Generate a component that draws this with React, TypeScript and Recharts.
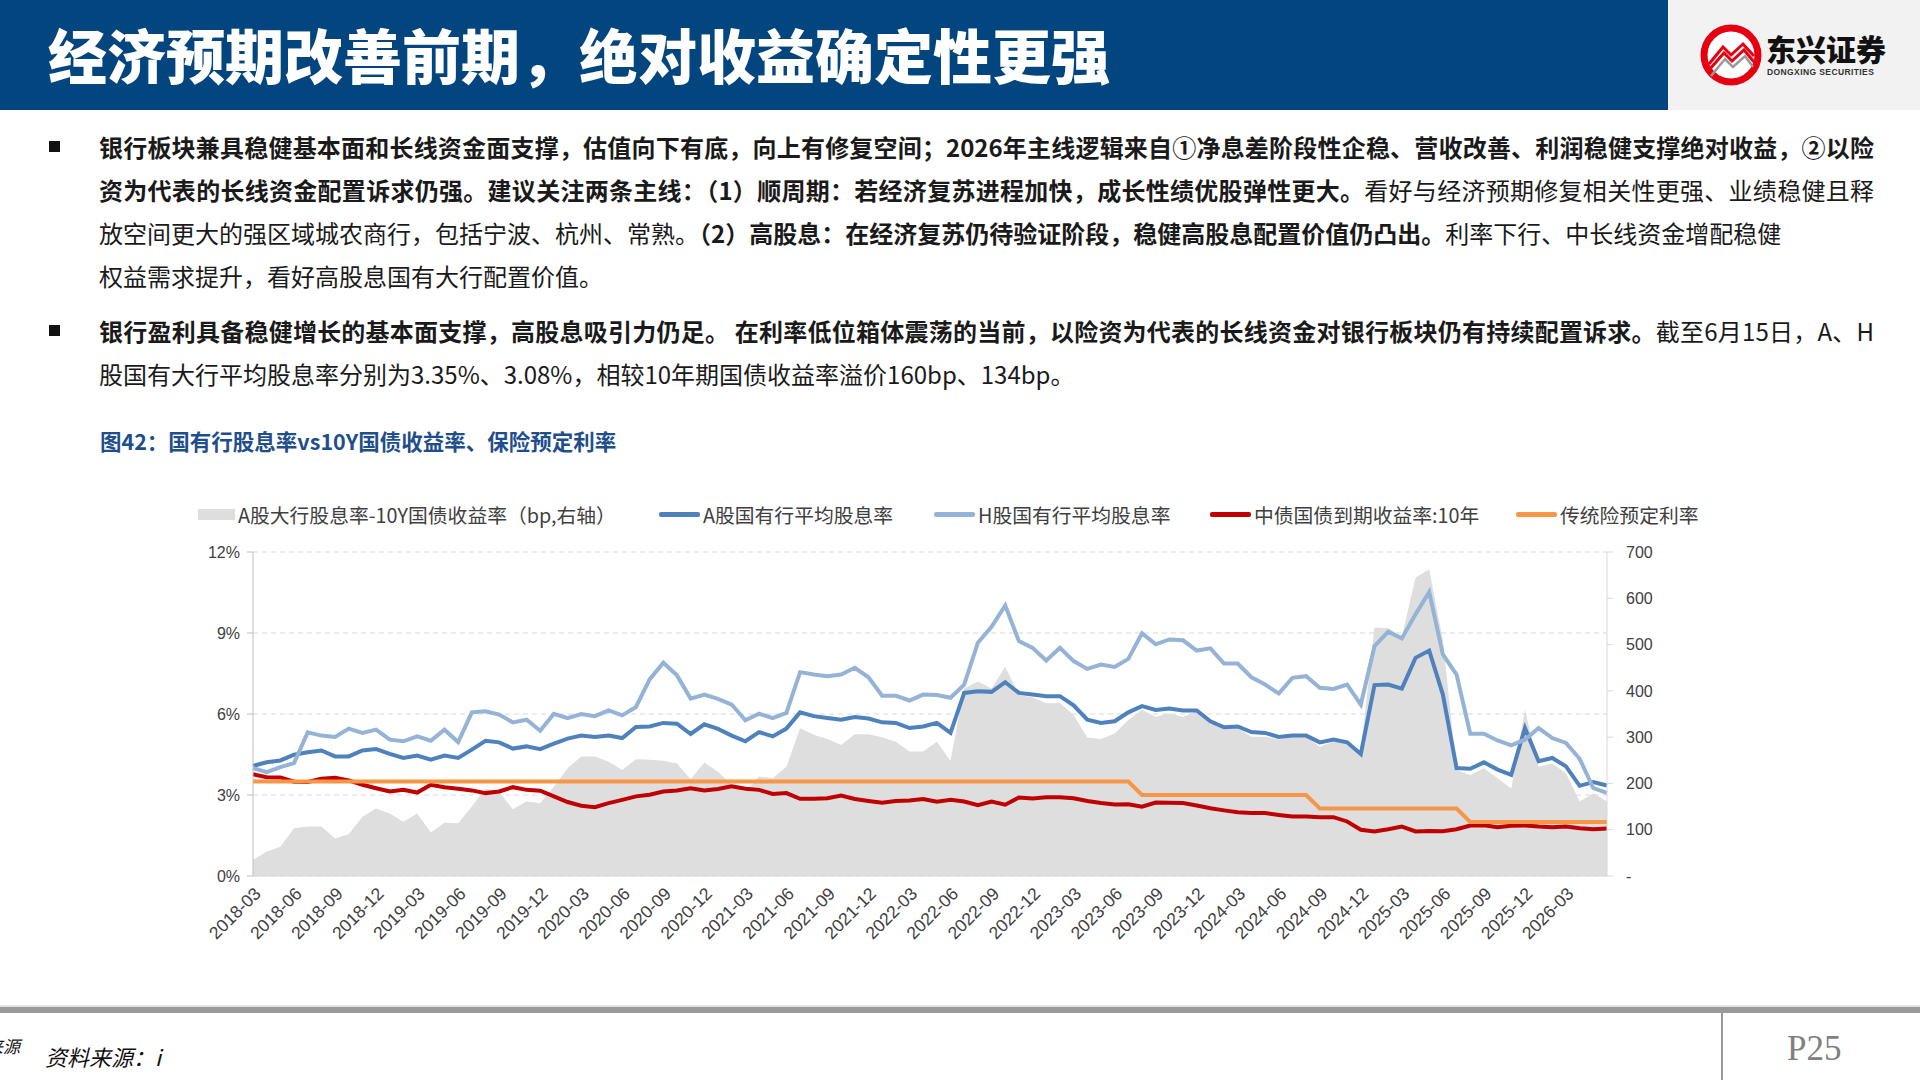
import React from 'react'
import { ComposedChart, Area, Line, XAxis, YAxis, CartesianGrid } from 'recharts'

// Monthly points, 2018-03 .. 2026-06
const aYield = [
    4.08, 4.21, 4.28, 4.49, 4.58, 4.65, 4.43, 4.43, 4.65, 4.70,
    4.52, 4.37, 4.46, 4.31, 4.46, 4.37, 4.68, 5.01, 4.95, 4.72,
    4.80, 4.70, 4.90, 5.09, 5.20, 5.15, 5.20, 5.11, 5.52, 5.54,
    5.67, 5.64, 5.26, 5.62, 5.45, 5.20, 4.99, 5.33, 5.17, 5.46,
    6.06, 5.92, 5.85, 5.79, 5.89, 5.83, 5.69, 5.67, 5.48, 5.54,
    5.67, 5.30, 6.78, 6.84, 6.82, 7.18, 6.78, 6.72, 6.66, 6.66,
    6.32, 5.79, 5.67, 5.73, 6.06, 6.29, 6.15, 6.20, 6.13, 6.13,
    5.73, 5.51, 5.54, 5.33, 5.30, 5.15, 5.20, 5.20, 4.95, 5.05,
    4.95, 4.52, 7.07, 7.09, 6.94, 8.08, 8.35, 6.72, 4.00, 3.97,
    4.21, 3.94, 3.75, 5.48, 4.25, 4.37, 4.06, 3.34, 3.48, 3.35,
]

const hYield = [
    4.00, 3.85, 4.03, 4.18, 5.32, 5.20, 5.15, 5.46, 5.30, 5.42,
    5.05, 4.99, 5.17, 5.01, 5.42, 4.96, 6.06, 6.10, 5.98, 5.69,
    5.79, 5.38, 6.01, 5.85, 6.00, 5.92, 6.13, 5.95, 6.26, 7.28,
    7.90, 7.43, 6.57, 6.72, 6.56, 6.35, 5.77, 6.01, 5.85, 6.04,
    7.55, 7.46, 7.40, 7.46, 7.71, 7.36, 6.68, 6.68, 6.50, 6.72,
    6.70, 6.60, 7.09, 8.64, 9.23, 10.02, 8.70, 8.45, 7.98, 8.45,
    7.96, 7.67, 7.83, 7.74, 8.04, 8.99, 8.58, 8.76, 8.73, 8.35,
    8.43, 7.87, 7.87, 7.36, 7.09, 6.76, 7.34, 7.40, 6.97, 6.93,
    7.09, 6.35, 8.51, 9.05, 8.80, 9.69, 10.52, 8.21, 7.46, 5.27,
    5.27, 5.02, 4.84, 5.05, 5.48, 5.11, 4.93, 4.34, 3.25, 3.08,
]

const cgb10y = [
    3.77, 3.66, 3.65, 3.49, 3.48, 3.60, 3.64, 3.54, 3.38, 3.25,
    3.13, 3.19, 3.09, 3.38, 3.29, 3.23, 3.17, 3.07, 3.13, 3.29,
    3.19, 3.16, 2.95, 2.74, 2.60, 2.55, 2.70, 2.82, 2.95, 3.01,
    3.13, 3.17, 3.25, 3.17, 3.22, 3.32, 3.23, 3.19, 3.04, 3.07,
    2.86, 2.86, 2.88, 2.98, 2.85, 2.78, 2.71, 2.78, 2.80, 2.85,
    2.75, 2.82, 2.76, 2.62, 2.76, 2.64, 2.91, 2.87, 2.92, 2.92,
    2.88, 2.78, 2.70, 2.65, 2.66, 2.57, 2.72, 2.71, 2.70, 2.61,
    2.51, 2.43, 2.36, 2.33, 2.33, 2.26, 2.20, 2.20, 2.18, 2.18,
    2.02, 1.71, 1.65, 1.73, 1.83, 1.65, 1.67, 1.66, 1.73, 1.87,
    1.88, 1.81, 1.86, 1.87, 1.83, 1.81, 1.83, 1.77, 1.73, 1.76,
]

const insRate = [
    3.5, 3.5, 3.5, 3.5, 3.5, 3.5, 3.5, 3.5, 3.5, 3.5,
    3.5, 3.5, 3.5, 3.5, 3.5, 3.5, 3.5, 3.5, 3.5, 3.5,
    3.5, 3.5, 3.5, 3.5, 3.5, 3.5, 3.5, 3.5, 3.5, 3.5,
    3.5, 3.5, 3.5, 3.5, 3.5, 3.5, 3.5, 3.5, 3.5, 3.5,
    3.5, 3.5, 3.5, 3.5, 3.5, 3.5, 3.5, 3.5, 3.5, 3.5,
    3.5, 3.5, 3.5, 3.5, 3.5, 3.5, 3.5, 3.5, 3.5, 3.5,
    3.5, 3.5, 3.5, 3.5, 3.5, 3.0, 3.0, 3.0, 3.0, 3.0,
    3.0, 3.0, 3.0, 3.0, 3.0, 3.0, 3.0, 3.0, 2.5, 2.5,
    2.5, 2.5, 2.5, 2.5, 2.5, 2.5, 2.5, 2.5, 2.5, 2.0,
    2.0, 2.0, 2.0, 2.0, 2.0, 2.0, 2.0, 2.0, 2.0, 2.0,
]

// A股大行股息率 - 10Y国债 (bp, right axis)
const spreadBp = [
    35, 53, 63, 103, 107, 107, 81, 90, 128, 146,
    135, 117, 135, 94, 115, 114, 150, 189, 182, 144,
    161, 157, 193, 233, 258, 258, 247, 229, 252, 251,
    249, 243, 209, 245, 225, 197, 182, 215, 211, 236,
    319, 305, 296, 283, 306, 306, 300, 290, 269, 269,
    290, 249, 405, 420, 405, 452, 391, 386, 373, 374,
    348, 299, 296, 308, 337, 359, 344, 351, 344, 356,
    330, 319, 319, 301, 301, 295, 301, 301, 279, 290,
    287, 270, 537, 535, 517, 645, 662, 510, 229, 218,
    233, 211, 189, 359, 236, 243, 222, 161, 179, 161,
]

const leftTicks = [0, 3, 6, 9, 12]
const rightTicks = [0, 100, 200, 300, 400, 500, 600, 700]

const months: string[] = []
for (let k = 0; k < aYield.length; k++) {
    const t = 2018 * 12 + 2 + k
    const y = Math.floor(t / 12)
    const mo = (t % 12) + 1
    months.push(`${y}-${mo < 10 ? '0' + mo : mo}`)
}

// quarterly labels, 2018-03 .. 2026-03
const xTicks = months.filter((m, i) => i % 3 === 0 && m <= '2026-03')

const chartData = months.map((m, i) => ({
    m,
    spread: spreadBp[i],
    a: aYield[i],
    h: hYield[i],
    cgb: cgb10y[i],
    ins: insRate[i],
}))

const CN = '"Noto Sans CJK SC", "Noto Sans", sans-serif'
const NUM = '"Liberation Sans", Arial, sans-serif'

// Legend entries
const legendItems = [
    { label: 'A股大行股息率-10Y国债收益率（bp,右轴）', color: '#dedede', box: true, x: 198 },
    { label: 'A股国有行平均股息率', color: '#4f81bd', box: false, x: 659 },
    { label: 'H股国有行平均股息率', color: '#95b3d7', box: false, x: 934 },
    { label: '中债国债到期收益率:10年', color: '#c00000', box: false, x: 1210 },
    { label: '传统险预定利率', color: '#f79646', box: false, x: 1516 },
]

function Logo() {
    return (
        <div style={{ position: 'absolute', left: 1668, top: 0, width: 252, height: 110, background: '#f2f2f2' }}>
            <svg width={70} height={70} style={{ position: 'absolute', left: 28, top: 20 }}>
                <circle cx={35} cy={35} r={27} fill="#fff" stroke="#e60012" strokeWidth={7} />
                <polyline points="13,44 27,27 35,35 47,24 58,36" fill="none" stroke="#e60012" strokeWidth={3} />
                <polyline points="13,50 28,33 36,41 48,30 58,42" fill="none" stroke="#e60012" strokeWidth={3} />
                <polyline points="15,56 29,39 37,47 49,36 57,47" fill="none" stroke="#999" strokeWidth={2.5} />
            </svg>
            <div style={{ position: 'absolute', left: 98, top: 30, fontFamily: CN, fontWeight: 900, fontSize: 30, lineHeight: '36px', color: '#111' }}>东兴证券</div>
            <div style={{ position: 'absolute', left: 99, top: 67, fontFamily: NUM, fontWeight: 700, fontSize: 8.5, lineHeight: '10px', color: '#333', letterSpacing: 0.4 }}>DONGXING SECURITIES</div>
        </div>
    )
}

function TextLine({ top, children, justify }: { top: number, children: React.ReactNode, justify?: boolean }) {
    return (
        <div
            style={{
                position: 'absolute',
                left: 99,
                top: top - 17,
                width: justify ? 1775 : undefined,
                height: 34,
                lineHeight: '34px',
                fontFamily: CN,
                fontSize: 24,
                color: '#1a1a1a',
                whiteSpace: 'nowrap',
                textAlign: justify ? 'justify' : 'left',
                textAlignLast: justify ? 'justify' : 'auto',
            }}
        >
            {children}
        </div>
    )
}

const B = ({ children }: { children: React.ReactNode }) => <b style={{ fontWeight: 700 }}>{children}</b>

export default function App() {
    return (
        <div style={{ position: 'absolute', left: 0, top: 0, width: 1920, height: 1080, background: '#fff', overflow: 'hidden' }}>
            {/* header */}
            <div style={{ position: 'absolute', left: 0, top: 0, width: 1668, height: 110, background: '#03457e' }} />
            <div style={{ position: 'absolute', left: 48, top: 14, fontFamily: CN, fontWeight: 900, fontSize: 59, lineHeight: '80px', color: '#fff', whiteSpace: 'nowrap' }}>
                经济预期改善前期，绝对收益确定性更强
            </div>
            <Logo />

            {/* bullets */}
            <div style={{ position: 'absolute', left: 49, top: 141, width: 11, height: 11, background: '#111' }} />
            <div style={{ position: 'absolute', left: 49, top: 325, width: 11, height: 11, background: '#111' }} />
            <TextLine top={147} justify>
                <B>银行板块兼具稳健基本面和长线资金面支撑，估值向下有底，向上有修复空间；2026年主线逻辑来自①净息差阶段性企稳、营收改善、利润稳健支撑绝对收益，②以险</B>
            </TextLine>
            <TextLine top={190} justify>
                <B>资为代表的长线资金配置诉求仍强。建议关注两条主线：（1）顺周期：若经济复苏进程加快，成长性绩优股弹性更大。</B>看好与经济预期修复相关性更强、业绩稳健且释
            </TextLine>
            <TextLine top={233}>
                放空间更大的强区域城农商行，包括宁波、杭州、常熟。<B>（2）高股息：在经济复苏仍待验证阶段，稳健高股息配置价值仍凸出。</B>利率下行、中长线资金增配稳健
            </TextLine>
            <TextLine top={276}>权益需求提升，看好高股息国有大行配置价值。</TextLine>
            <TextLine top={331} justify>
                <B>银行盈利具备稳健增长的基本面支撑，高股息吸引力仍足。 在利率低位箱体震荡的当前，以险资为代表的长线资金对银行板块仍有持续配置诉求。</B>截至6月15日，A、H
            </TextLine>
            <TextLine top={374}>股国有大行平均股息率分别为3.35%、3.08%，相较10年期国债收益率溢价160bp、134bp。</TextLine>

            {/* figure caption */}
            <div style={{ position: 'absolute', left: 100, top: 427, fontFamily: CN, fontWeight: 700, fontSize: 21.5, lineHeight: '28px', color: '#1f4e8c', whiteSpace: 'nowrap' }}>
                图42：国有行股息率vs10Y国债收益率、保险预定利率
            </div>

            {/* legend */}
            {legendItems.map(item => (
                <div key={item.label} style={{ position: 'absolute', left: item.x, top: 500, height: 28, display: 'flex', alignItems: 'center', whiteSpace: 'nowrap' }}>
                    {item.box
                        ? <div style={{ width: 37, height: 11, background: item.color }} />
                        : <div style={{ width: 41, height: 5, borderRadius: 2, background: item.color }} />}
                    <span style={{ marginLeft: 3, fontFamily: CN, fontSize: 19.8, color: '#404040' }}>{item.label}</span>
                </div>
            ))}

            {/* chart */}
            <div style={{ position: 'absolute', left: 150, top: 530 }}>
                <ComposedChart width={1520} height={440} data={chartData} margin={{ top: 22, right: 10, bottom: 10, left: 50 }}>
                    <CartesianGrid yAxisId="left" vertical={false} stroke="#d9d9d9" strokeDasharray="5 4" />
                    <XAxis
                        dataKey="m"
                        scale="point"
                        ticks={xTicks}
                        interval={0}
                        angle={-45}
                        textAnchor="end"
                        height={84}
                        tickLine={false}
                        tickSize={4}
                        tickMargin={6}
                        axisLine={{ stroke: '#d9d9d9' }}
                        tick={{ fill: '#404040', fontSize: 17.5, fontFamily: NUM }}
                    />
                    <YAxis
                        yAxisId="left"
                        domain={[0, 12]}
                        ticks={leftTicks}
                        width={53}
                        tickSize={6}
                        tickMargin={7}
                        axisLine={{ stroke: '#bfbfbf' }}
                        tickLine={{ stroke: '#bfbfbf' }}
                        tickFormatter={(v: number) => `${v}%`}
                        tick={{ fill: '#404040', fontSize: 16, fontFamily: NUM }}
                    />
                    <YAxis
                        yAxisId="right"
                        orientation="right"
                        domain={[0, 700]}
                        ticks={rightTicks}
                        width={53}
                        tickSize={6}
                        tickMargin={13}
                        axisLine={{ stroke: '#d9d9d9' }}
                        tickLine={{ stroke: '#d9d9d9' }}
                        tickFormatter={(v: number) => (v === 0 ? '-' : `${v}`)}
                        tick={{ fill: '#404040', fontSize: 16, fontFamily: NUM, textAnchor: 'start' }}
                    />
                    <Area yAxisId="right" type="linear" dataKey="spread" fill="#dedede" fillOpacity={1} stroke="none" isAnimationActive={false} />
                    <Line yAxisId="left" type="linear" dataKey="a" stroke="#4f81bd" strokeWidth={4} dot={false} activeDot={false} isAnimationActive={false} />
                    <Line yAxisId="left" type="linear" dataKey="h" stroke="#95b3d7" strokeWidth={4} dot={false} activeDot={false} isAnimationActive={false} />
                    <Line yAxisId="left" type="linear" dataKey="cgb" stroke="#c00000" strokeWidth={4} dot={false} activeDot={false} isAnimationActive={false} />
                    <Line yAxisId="left" type="linear" dataKey="ins" stroke="#f79646" strokeWidth={4} dot={false} activeDot={false} isAnimationActive={false} />
                </ComposedChart>
            </div>

            {/* footer */}
            <div style={{ position: 'absolute', left: 0, top: 1005, width: 1920, height: 2, background: '#e3e3e3' }} />
            <div style={{ position: 'absolute', left: 0, top: 1007, width: 1920, height: 6, background: '#9a9a9a' }} />
            <div style={{ position: 'absolute', left: 1721, top: 1013, width: 2, height: 67, background: '#9a9a9a' }} />
            <div style={{ position: 'absolute', left: 1787, top: 1029, fontFamily: '"Liberation Serif", serif', fontSize: 35, lineHeight: '40px', color: '#808080' }}>P25</div>
            <div style={{ position: 'absolute', left: -14, top: 1035, fontFamily: CN, fontSize: 17, lineHeight: '22px', fontStyle: 'italic', color: '#111', whiteSpace: 'nowrap' }}>来源</div>
            <div style={{ position: 'absolute', left: 45, top: 1042, fontFamily: CN, fontSize: 22, lineHeight: '28px', fontStyle: 'italic', color: '#111', whiteSpace: 'nowrap' }}>资料来源：i</div>
        </div>
    )
}
